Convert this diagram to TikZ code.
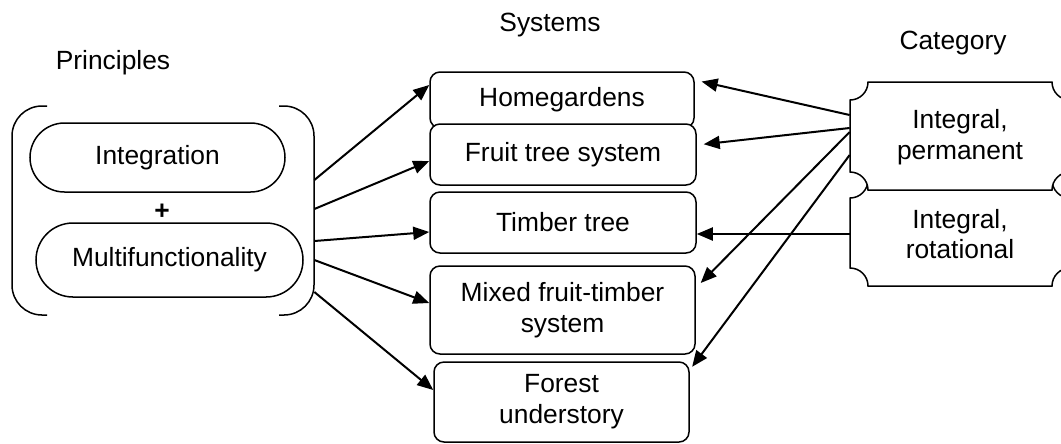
\documentclass[tikz,border=0pt]{standalone}
\usepackage{fontspec}
\setmainfont{Liberation Sans}
\usetikzlibrary{arrows.meta, shapes.misc}
\newcommand{\plaque}[5]{\draw[line width=0.3mm, fill=white] (#1+#5,#2) -- (#3-#5,#2) arc[start angle=180, end angle=90, radius=#5] -- (#3,#4-#5) arc[start angle=270, end angle=180, radius=#5] -- (#1+#5,#4) arc[start angle=0, end angle=-90, radius=#5] -- (#1,#2+#5) arc[start angle=90, end angle=0, radius=#5] -- cycle;}
\begin{document}
\begin{tikzpicture}[x=0.2mm, y=-0.2mm, font=\fontsize{15}{17.5}\selectfont, sys/.style={draw, line width=0.3mm, rounded corners=2mm, fill=white, align=center, inner sep=0pt}, pr/.style={draw, line width=0.3mm, rounded rectangle, inner sep=0pt}, cat/.style={align=center, inner sep=0pt}, arr/.style={-{Triangle[length=3.2mm, width=2.6mm]}, line width=0.4mm}]
	\useasboundingbox (0,0) rectangle (1061,443);
	\node (lprin) at (113,63) {Principles};
	\node (lsys) at (550,25) {Systems};
	\node (lcat) at (953,43) {Category};
	\draw[line width=0.3mm, rounded corners=6mm] (47,106) -- (12,106) -- (12,315) -- (47,315);
	\draw[line width=0.3mm, rounded corners=6mm] (279,106) -- (314,106) -- (314,315) -- (279,315);
	\node[minimum width=60.4mm, minimum height=41.8mm, inner sep=0pt] (prin) at (163,210.5) {};
	\node[pr, minimum width=51mm, minimum height=13.8mm] (integ) at (157.5,157.5) {Integration};
	\node (plus) at (162,212) {\textbf{+}};
	\node[pr, minimum width=53.4mm, minimum height=14.8mm] (multi) at (169.5,260) {Multifunctionality};
	\node[sys, minimum width=52.8mm, minimum height=11.2mm] (home) at (562,100) {Homegardens};
	\node[sys, minimum width=53.2mm, minimum height=12.2mm] (fruit) at (563,154.5) {Fruit tree system};
	\node[sys, minimum width=53.2mm, minimum height=12.2mm] (timber) at (563,222.5) {Timber tree};
	\node[sys, minimum width=53mm, minimum height=17.6mm] (mixed) at (562.5,310) {Mixed fruit-timber\\system};
	\node[sys, minimum width=51mm, minimum height=16mm] (forest) at (561.5,402) {Forest\\understory};
	\plaque{850}{180}{1070}{286}{18}
	\plaque{850}{82}{1070}{190}{18}
	\node[cat, minimum width=44mm, minimum height=21.6mm] (perm) at (960,137) {Integral,\\permanent};
	\node[cat, minimum width=44mm, minimum height=21.2mm] (rot) at (960,234) {Integral,\\rotational};
	\draw[arr] ([yshift=6.1mm]prin.east) -- ([yshift=3mm]home.west);
	\draw[arr] ([yshift=0.3mm]prin.east) -- ([yshift=-1.3mm]fruit.west);
	\draw[arr] ([yshift=-6.1mm]prin.east) -- ([yshift=-1.9mm]timber.west);
	\draw[arr] ([yshift=-9.9mm]prin.east) -- ([yshift=1.4mm]mixed.west);
	\draw[arr] ([yshift=-16.3mm]prin.east) -- ([yshift=2.4mm]forest.west);
	\draw[arr, shorten >=1.4mm] ([yshift=4.4mm]perm.west) -- ([yshift=4mm]home.east);
	\draw[arr, shorten >=1.4mm] ([yshift=1.8mm]perm.west) -- ([yshift=1.9mm]fruit.east);
	\draw[arr, shorten >=1.4mm] ([yshift=1mm]perm.west) -- ([yshift=4.4mm]mixed.east);
	\draw[arr, shorten >=0.8mm] ([yshift=-3.6mm]perm.west) -- ([yshift=6.4mm]forest.east);
	\draw[arr] (rot.west) -- (rot.west -| timber.east);
\end{tikzpicture}
\end{document}
